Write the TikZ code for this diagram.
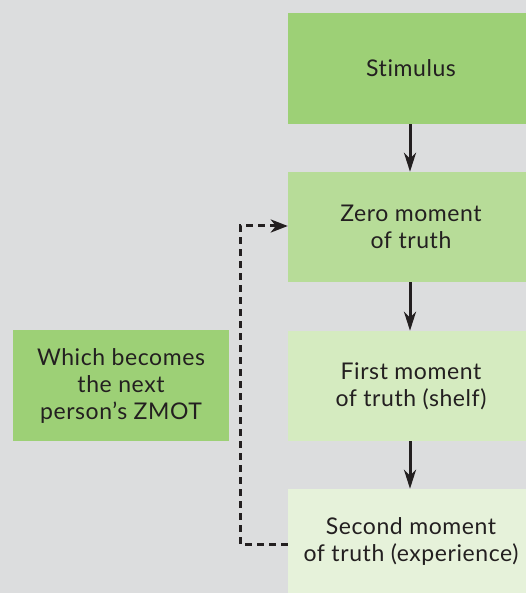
\documentclass[tikz,border=0pt]{standalone}
\usepackage{fontspec}
\setmainfont[Ligatures=NoCommon,LetterSpace=2.5]{Lato}
\usetikzlibrary{arrows.meta}
\definecolor{bggray}{HTML}{DCDDDE}
\definecolor{greenA}{HTML}{9DD076}
\definecolor{greenB}{HTML}{B7DC98}
\definecolor{greenC}{HTML}{D5EBC0}
\definecolor{greenD}{HTML}{E6F2DA}
\definecolor{ink}{HTML}{231F20}
\tikzset{
  box/.style={fill=#1, draw=none, inner sep=0pt, align=center, text=ink,
    font=\fontsize{23}{27}\selectfont},
  flow/.style={draw=ink, line width=3pt, -{Stealth[length=19pt,width=12pt,inset=6pt]}},
  loop/.style={draw=ink, line width=3pt, dash pattern=on 7pt off 5pt,
    -{Stealth[length=17pt,width=13pt,inset=5pt]}}
}
\begin{document}
\begin{tikzpicture}[x=1pt,y=-1pt]
  \fill[bggray] (0,0) rectangle (526,593);
  \useasboundingbox (0,0) rectangle (526,593);
  % stages of the decision path (boxes run past the right edge)
  \node[box=greenA, minimum width=246pt, minimum height=111pt] (stim) at (411,68.5) {Stimulus};
  \node[box=greenB, minimum width=246pt, minimum height=110pt] (zero) at (411,227) {Zero moment\\of truth};
  \node[box=greenC, minimum width=246pt, minimum height=110pt] (first) at (411,386) {First moment\\of truth (shelf)};
  \node[box=greenD, minimum width=246pt, minimum height=104pt] (second) at (411,541) {Second moment\\of truth (experience)};
  % side note
  \node[box=greenA, minimum width=216pt, minimum height=111pt] (note) at (121,385.5) {Which becomes\\the next\\person’s ZMOT};
  % downward flow
  \draw[flow] (stim.south -| 410,0) -- (zero.north -| 410,0);
  \draw[flow] (zero.south -| 410,0) -- (first.north -| 410,0);
  \draw[flow] (first.south -| 410,0) -- (second.north -| 410,0);
  % feedback loop
  \coordinate (lb) at (240,544);
  \coordinate (lt) at (240,226);
  \draw[loop] (second.west |- lb) -- (lb) -- (lt) -- (zero.west |- lt);
\end{tikzpicture}
\end{document}
